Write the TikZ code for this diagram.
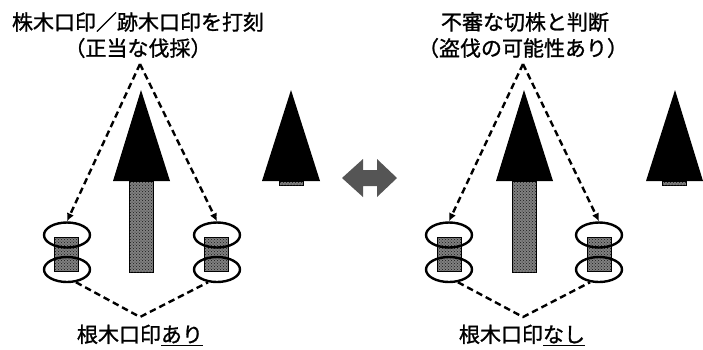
\documentclass[tikz,border=0pt]{standalone}
\usepackage{fontspec}
\setmainfont[FakeBold=1.2]{Noto Sans CJK JP}
\usetikzlibrary{arrows.meta,shapes.geometric,patterns}
\definecolor{arrowgray}{HTML}{555555}
\tikzset{
  ring/.style={draw=black,line width=2.4pt,ellipse,minimum width=46pt,minimum height=25pt,inner sep=0pt},
  stumpbox/.style={draw=black,line width=0.8pt,fill=black!50,minimum width=24pt,minimum height=34pt,inner sep=0pt,
     postaction={pattern=crosshatch dots,pattern color=black!90}},
  trunkfill/.style={draw=black,line width=0.8pt,fill=black!50,postaction={pattern=crosshatch dots,pattern color=black!90}},
  crown/.style={fill=black},
  dashline/.style={line width=2.4pt,dash pattern=on 6.5pt off 4pt},
  dasharrow/.style={dashline,-{Latex[length=8pt,width=7.5pt]}},
  lbl/.style={font=\fontsize{21}{26}\selectfont,inner sep=0pt,align=center}
}
\begin{document}
\begin{tikzpicture}[x=1pt,y=-1pt]
\useasboundingbox (0,0) rectangle (703,349);
% ---------- left panel ----------
\node[lbl] (t1a) at (138,22) {株木口印／跡木口印を打刻};
\node[lbl] (t1b) at (138,48) {（正当な伐採）};
\coordinate (apL) at (140,64);
% trees
\path[trunkfill] (129,181) rectangle (153,272);
\path[crown] (141,90) -- (170,181) -- (113,181) -- cycle;
\path[trunkfill] (279,181) rectangle (303,185);
\path[crown] (291,90) -- (320,181) -- (262,181) -- cycle;
% stumps
\node[stumpbox] (s1) at (66,254) {};
\node[stumpbox] (s2) at (216,254) {};
\node[ring] (L1t) at (67,235) {};
\node[ring] (L1b) at (67,269.5) {};
\node[ring] (L2t) at (217,235) {};
\node[ring] (L2b) at (217,269.5) {};
\draw[dasharrow] (apL) -- (L1t.north);
\draw[dasharrow] (apL) -- (L2t.north);
\coordinate (bL) at (140,317);
\draw[dashline] (L1b.-55) -- (bL) -- (L2b.-125);
\node[lbl] (b1) at (140,335) {根木口印\underline{あり}};
% ---------- double arrow ----------
\fill[arrowgray] (342,178) -- (363,159) -- (363,170) -- (377,170) -- (377,159) -- (397,178)
  -- (377,197) -- (377,186) -- (363,186) -- (363,197) -- cycle;
% ---------- right panel ----------
\node[lbl] (t2a) at (525,22) {不審な切株と判断};
\node[lbl] (t2b) at (523,48) {（盗伐の可能性あり）};
\coordinate (apR) at (523,64);
\path[trunkfill] (512,181) rectangle (536,272);
\path[crown] (524,90) -- (553,181) -- (496,181) -- cycle;
\path[trunkfill] (662,181) rectangle (686,185);
\path[crown] (675,90) -- (703,181) -- (646,181) -- cycle;
\node[stumpbox] (s3) at (449,254) {};
\node[stumpbox] (s4) at (599,254) {};
\node[ring] (R1t) at (449,235) {};
\node[ring] (R1b) at (449,269.5) {};
\node[ring] (R2t) at (599,235) {};
\node[ring] (R2b) at (599,269.5) {};
\draw[dasharrow] (apR) -- (R1t.north);
\draw[dasharrow] (apR) -- (R2t.north);
\coordinate (bR) at (523,317);
\draw[dashline] (R1b.-55) -- (bR) -- (R2b.-125);
\node[lbl] (b2) at (522,335) {根木口印\underline{なし}};
\end{tikzpicture}
\end{document}
